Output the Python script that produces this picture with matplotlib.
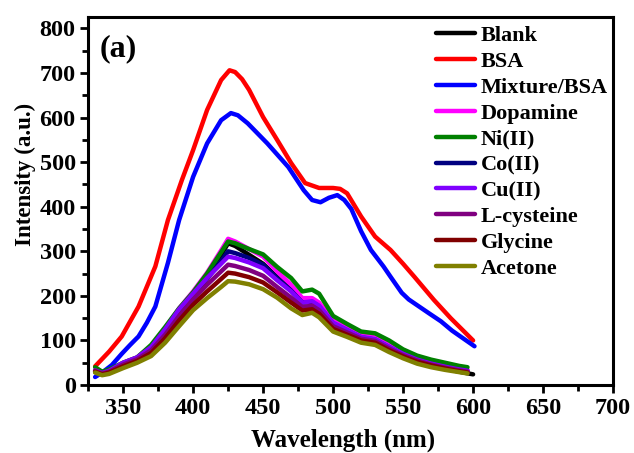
import matplotlib
matplotlib.use("Agg")
import matplotlib.pyplot as plt
from matplotlib.ticker import MultipleLocator

plt.rcParams['font.family'] = ['Liberation Serif', 'DejaVu Serif']
plt.rcParams['font.weight'] = 'bold'

# BSA and Mixture/BSA spectra
wl_bsa = [330, 340, 349, 361, 373, 382, 392, 400, 410, 420, 426, 430, 435, 440, 450, 460, 470,
          480, 490, 500, 505, 510, 520, 530, 541, 550, 558, 572, 584, 600]
bsa = [42, 75, 109, 176, 266, 370, 460, 527, 617, 684, 706, 702, 686, 662, 601, 550, 498,
       453, 442, 442, 440, 430, 378, 333, 303, 272, 243, 191, 150, 100]

wl_mix = [330, 335, 342, 349, 355, 361, 367, 373, 382, 390, 400, 410, 420, 427, 432, 439, 453,
          468, 479, 485, 491, 497, 503, 508, 513, 520, 527, 536, 541, 549, 554, 568, 577, 585, 601]
mix = [18, 28, 45, 70, 90, 109, 140, 176, 274, 370, 467, 542, 594, 610, 605, 587, 542,
       489, 437, 415, 410, 420, 426, 415, 395, 345, 303, 266, 243, 207, 192, 162, 143, 122, 87]

# other samples
wl = [330, 335, 340, 350, 360, 370, 380, 390, 400, 410, 420, 425, 430, 440, 450, 460, 470,
      478, 485, 490, 500, 510, 520, 530, 540, 550, 560, 570, 580, 590, 596]
wl_blank = wl[:-1] + [600]

blank = [30, 26, 31, 48, 60, 84, 124, 168, 205, 245, 292, 318, 312, 292, 272, 242, 212,
         188, 188, 178, 138, 121, 106, 101, 84, 68, 55, 45, 37, 30, 24]
dopamine = [32, 27, 32, 50, 62, 87, 128, 172, 210, 252, 302, 328, 322, 305, 288, 255, 225,
            195, 195, 185, 145, 128, 112, 107, 90, 73, 60, 50, 43, 37, 34]
ni = [40, 30, 35, 50, 62, 90, 130, 172, 208, 250, 298, 322, 318, 305, 293, 265, 240,
      210, 214, 205, 155, 137, 120, 116, 100, 80, 66, 57, 50, 43, 40]
co = [30, 26, 31, 48, 60, 82, 122, 165, 202, 238, 278, 300, 296, 285, 270, 240, 212,
      185, 186, 176, 138, 122, 107, 102, 85, 69, 56, 47, 40, 34, 31]
cu = [33, 27, 32, 50, 62, 85, 125, 170, 205, 240, 272, 288, 285, 275, 262, 235, 210,
      185, 188, 178, 140, 124, 108, 103, 86, 70, 57, 48, 41, 35, 32]
lcys = [32, 26, 30, 46, 58, 78, 113, 155, 192, 225, 255, 270, 267, 258, 245, 220, 196,
        175, 178, 168, 132, 118, 104, 99, 82, 67, 55, 46, 39, 33, 30]
glycine = [30, 24, 28, 42, 54, 72, 105, 145, 180, 210, 238, 252, 250, 242, 230, 208, 185,
           167, 170, 160, 126, 113, 100, 95, 78, 64, 52, 44, 37, 31, 28]
acetone = [28, 22, 25, 38, 50, 65, 95, 132, 168, 195, 220, 233, 232, 226, 215, 196, 172,
           157, 162, 152, 120, 108, 95, 90, 74, 60, 48, 40, 34, 29, 26]

series = [
    ("Blank", wl_blank, blank, "black"),
    ("BSA", wl_bsa, bsa, "#ff0000"),
    ("Mixture/BSA", wl_mix, mix, "#0000ff"),
    ("Dopamine", wl, dopamine, "#ff00ff"),
    ("Ni(II)", wl, ni, "#008000"),
    ("Co(II)", wl, co, "#000080"),
    ("Cu(II)", wl, cu, "#8000ff"),
    ("L-cysteine", wl, lcys, "#800080"),
    ("Glycine", wl, glycine, "#800000"),
    ("Acetone", wl, acetone, "#808000"),
]

fig = plt.figure(figsize=(6.34, 4.53), dpi=100)
ax = fig.add_axes([0.139, 0.150, 0.828, 0.812])

for name, x, y, c in series:
    ax.plot(x, y, color=c, lw=3.2, label=name, solid_joinstyle='round', solid_capstyle='round')

ax.set_xlim(325, 700)
ax.set_ylim(0, 825)
ax.xaxis.set_major_locator(MultipleLocator(50))
ax.xaxis.set_minor_locator(MultipleLocator(25))
ax.yaxis.set_major_locator(MultipleLocator(100))
ax.yaxis.set_minor_locator(MultipleLocator(50))
ax.tick_params(which='both', direction='out', width=2, top=False, right=False, labelsize=17.5, pad=3)
ax.tick_params(which='major', length=6)
ax.tick_params(which='minor', length=4)
for s in ax.spines.values():
    s.set_linewidth(2.2)

ax.set_xlabel("Wavelength (nm)", fontsize=18, fontweight='bold')
ax.set_ylabel("Intensity (a.u.)", fontsize=16.5, fontweight='bold')
ax.xaxis.set_label_coords(0.486, -0.118)
ax.yaxis.set_label_coords(-0.100, 0.573)
ax.text(0.022, 0.955, "(a)", transform=ax.transAxes, fontsize=23, fontweight='bold', va='top')

leg = ax.legend(loc='upper right', frameon=False, fontsize=16, handlelength=1.75,
                handletextpad=0.25, labelspacing=0.24, borderpad=0.1, borderaxespad=0.0,
                bbox_to_anchor=(0.994, 0.984))

fig.savefig("out.png", dpi=100)
